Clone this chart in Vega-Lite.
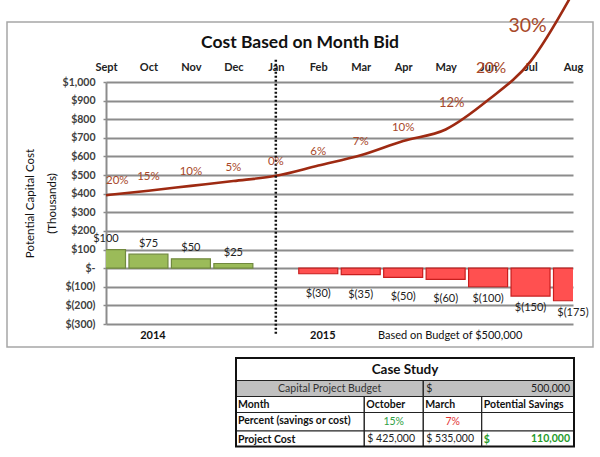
{
  "$schema": "https://vega.github.io/schema/vega-lite/v6.json",
  "width": 467,
  "height": 242,
  "autosize": {"type": "none"},
  "padding": {"left": 106, "top": 82, "right": 27, "bottom": 133},
  "background": "white",
  "config": {"font": "Lato", "view": {"stroke": null}},
  "title": {
    "text": "Cost Based on Month Bid",
    "fontSize": 17.5,
    "fontWeight": "bold",
    "color": "#111111",
    "anchor": "middle",
    "frame": "bounds",
    "offset": -64
  },
  "datasets": {
    "months": [
      {"month": "Sept", "impact": 100, "impact_label": "$100", "capital_cost": 392, "pct": "20%"},
      {"month": "Oct", "impact": 75, "impact_label": "$75", "capital_cost": 416, "pct": "15%"},
      {"month": "Nov", "impact": 50, "impact_label": "$50", "capital_cost": 442, "pct": "10%"},
      {"month": "Dec", "impact": 25, "impact_label": "$25", "capital_cost": 468, "pct": "5%"},
      {"month": "Jan", "impact": 0, "impact_label": "", "capital_cost": 496, "pct": "0%"},
      {"month": "Feb", "impact": -30, "impact_label": "$(30)", "capital_cost": 551, "pct": "6%"},
      {"month": "Mar", "impact": -35, "impact_label": "$(35)", "capital_cost": 606, "pct": "7%"},
      {"month": "Apr", "impact": -50, "impact_label": "$(50)", "capital_cost": 683, "pct": "10%"},
      {"month": "May", "impact": -60, "impact_label": "$(60)", "capital_cost": 745, "pct": "12%"},
      {"month": "Jun", "impact": -100, "impact_label": "$(100)", "capital_cost": 903, "pct": "20%"},
      {"month": "Jul", "impact": -150, "impact_label": "$(150)", "capital_cost": 1111, "pct": "30%"},
      {"month": "Aug", "impact": -175, "impact_label": "$(175)", "capital_cost": 1480, "pct": ""}
    ],
    "table_cells": [
      {"r0": 0, "r1": 1, "c0": 0, "c1": 4, "section": "title"},
      {"r0": 1, "r1": 2, "c0": 0, "c1": 2, "section": "budget"},
      {"r0": 1, "r1": 2, "c0": 2, "c1": 4, "section": "budget"},
      {"r0": 2, "r1": 3, "c0": 0, "c1": 1, "section": "body"},
      {"r0": 2, "r1": 3, "c0": 1, "c1": 2, "section": "body"},
      {"r0": 2, "r1": 3, "c0": 2, "c1": 3, "section": "body"},
      {"r0": 2, "r1": 3, "c0": 3, "c1": 4, "section": "body"},
      {"r0": 3, "r1": 4, "c0": 0, "c1": 1, "section": "body"},
      {"r0": 3, "r1": 4, "c0": 1, "c1": 2, "section": "body"},
      {"r0": 3, "r1": 4, "c0": 2, "c1": 3, "section": "body"},
      {"r0": 3, "r1": 4, "c0": 3, "c1": 4, "section": "body"},
      {"r0": 4, "r1": 5, "c0": 0, "c1": 1, "section": "body"},
      {"r0": 4, "r1": 5, "c0": 1, "c1": 2, "section": "body"},
      {"r0": 4, "r1": 5, "c0": 2, "c1": 3, "section": "body"},
      {"r0": 4, "r1": 5, "c0": 3, "c1": 4, "section": "body"}
    ],
    "table_text": [
      {"r0": 0, "c0": 0, "c1": 4, "text": "Case Study", "role": "title", "tone": "plain"},
      {"r0": 1, "c0": 0, "c1": 2, "text": "Capital Project Budget", "role": "budget_label", "tone": "muted"},
      {"r0": 1, "c0": 2, "c1": 4, "text": "$", "role": "budget_symbol", "tone": "muted"},
      {"r0": 1, "c0": 2, "c1": 4, "text": "500,000", "role": "budget_amount", "tone": "muted"},
      {"r0": 2, "c0": 0, "c1": 1, "text": "Month", "role": "header", "tone": "plain"},
      {"r0": 2, "c0": 1, "c1": 2, "text": "October", "role": "header", "tone": "plain"},
      {"r0": 2, "c0": 2, "c1": 3, "text": "March", "role": "header", "tone": "plain"},
      {"r0": 2, "c0": 3, "c1": 4, "text": "Potential Savings", "role": "header", "tone": "plain"},
      {"r0": 3, "c0": 0, "c1": 1, "text": "Percent (savings or cost)", "role": "header", "tone": "plain"},
      {"r0": 3, "c0": 1, "c1": 2, "text": "15%", "role": "pct", "tone": "saving"},
      {"r0": 3, "c0": 2, "c1": 3, "text": "7%", "role": "pct", "tone": "cost"},
      {"r0": 4, "c0": 0, "c1": 1, "text": "Project Cost", "role": "header", "tone": "plain"},
      {"r0": 4, "c0": 1, "c1": 2, "text": "$ 425,000", "role": "amount", "tone": "plain"},
      {"r0": 4, "c0": 2, "c1": 3, "text": "$ 535,000", "role": "amount", "tone": "plain"},
      {"r0": 4, "c0": 3, "c1": 4, "text": "$", "role": "savings_symbol", "tone": "saving"},
      {"r0": 4, "c0": 3, "c1": 4, "text": "110,000", "role": "savings_amount", "tone": "saving"}
    ]
  },
  "layer": [
    {
      "resolve": {"axis": {"x": "independent"}},
      "layer": [
        {
          "data": {"values": [{}]},
          "mark": {"type": "rect", "filled": false, "color": "#a6a6a6", "strokeWidth": 1.5, "xOffset": -99, "x2Offset": 20, "yOffset": -60, "y2Offset": 23},
          "encoding": {
            "x": {"datum": "Sept", "type": "ordinal", "axis": null},
            "x2": {"datum": "Aug"},
            "y": {
              "datum": 1000, "type": "quantitative",
              "scale": {"domain": [-300, 1000], "nice": false, "zero": false},
              "axis": {
                "title": ["Potential Capital Cost", "(Thousands)"],
                "titleFontSize": 11.5, "titleFontWeight": "normal", "titleColor": "#111111", "titleLineHeight": 22, "titlePadding": 5,
                "values": [-300, -200, -100, 0, 100, 200, 300, 400, 500, 600, 700, 800, 900, 1000],
                "tickCount": 20,
                "labelOverlap": false,
                "labelExpr": "datum.value == 0 ? '$-' : datum.value < 0 ? '$(' + format(-datum.value, ',') + ')' : '$' + format(datum.value, ',')",
                "labelFontSize": 10.5, "labelFontWeight": "bold", "labelColor": "#404040", "labelPadding": 8,
                "tickSize": 3, "tickColor": "#8c8c8c", "tickWidth": 1.5,
                "domainColor": "#8c8c8c", "domainWidth": 2,
                "grid": true, "gridColor": "#8c8c8c", "gridWidth": 1.8
              }
            },
            "y2": {"datum": -300}
          }
        },
        {
          "data": {"name": "months"},
          "transform": [{"filter": "datum.impact != 0"}],
          "mark": {"type": "bar", "width": 39, "clip": true, "strokeWidth": 1.2},
          "encoding": {
            "x": {
              "field": "month", "type": "ordinal",
              "scale": {"type": "point", "padding": 0, "domain": ["Sept", "Oct", "Nov", "Dec", "Jan", "Feb", "Mar", "Apr", "May", "Jun", "Jul", "Aug"]},
              "axis": {"orient": "top", "title": null, "domain": false, "ticks": false, "tickSize": 0, "grid": false, "labelPadding": 10, "labelAngle": 0, "labelFontSize": 11, "labelFontWeight": "bold", "labelColor": "#222222"}
            },
            "y": {"field": "impact", "type": "quantitative"},
            "y2": {"datum": 0},
            "fill": {"condition": {"test": "datum.impact > 0", "value": "#9bbb59"}, "value": "#ff5050"},
            "stroke": {"condition": {"test": "datum.impact > 0", "value": "#71893f"}, "value": "#c81e1e"}
          }
        },
        {
          "data": {"name": "months"},
          "mark": {"type": "line", "interpolate": "monotone", "strokeWidth": 2.6, "color": "#9e2a12", "clip": false},
          "encoding": {
            "x": {
              "field": "month", "type": "ordinal",
              "axis": {
                "orient": "bottom", "title": null, "domain": false, "ticks": false, "tickSize": 0, "grid": false,
                "labelPadding": 5, "labelOffset": 4, "labelAngle": 0, "labelOverlap": false, "labelFontSize": 11, "labelColor": "#111111",
                "labelExpr": "datum.label == 'Oct' ? '2014' : datum.label == 'Feb' ? '2015' : datum.label == 'May' ? 'Based on Budget of $500,000' : ''",
                "labelFontWeight": {"condition": {"test": "datum.label == 'May'", "value": "normal"}, "value": "bold"}
              }
            },
            "y": {"field": "capital_cost", "type": "quantitative"}
          }
        },
        {
          "data": {"values": [{}]},
          "mark": {"type": "rule", "strokeDash": [2, 2], "strokeWidth": 2.5, "color": "#111111", "clip": false},
          "encoding": {
            "x": {"datum": "Jan", "type": "ordinal", "axis": null},
            "y": {"datum": 1120, "type": "quantitative"},
            "y2": {"datum": -355}
          }
        },
        {
          "data": {"name": "months"},
          "transform": [{"filter": "datum.impact > 0"}],
          "mark": {"type": "text", "dy": -10.5, "fontSize": 11, "color": "#222222", "clip": false},
          "encoding": {
            "x": {"field": "month", "type": "ordinal", "axis": null},
            "y": {"field": "impact", "type": "quantitative"},
            "text": {"field": "impact_label"}
          }
        },
        {
          "data": {"name": "months"},
          "transform": [{"filter": "datum.impact < 0 && datum.impact > -100"}],
          "mark": {"type": "text", "dy": 20, "fontSize": 11, "color": "#222222", "clip": false},
          "encoding": {
            "x": {"field": "month", "type": "ordinal", "axis": null},
            "y": {"field": "impact", "type": "quantitative"},
            "text": {"field": "impact_label"}
          }
        },
        {
          "data": {"name": "months"},
          "transform": [{"filter": "datum.impact <= -100"}],
          "mark": {"type": "text", "dy": 12, "fontSize": 11, "color": "#222222", "clip": false},
          "encoding": {
            "x": {"field": "month", "type": "ordinal", "axis": null},
            "y": {"field": "impact", "type": "quantitative"},
            "text": {"field": "impact_label"}
          }
        },
        {
          "data": {"name": "months"},
          "transform": [{"filter": "datum.month == 'Sept'"}],
          "mark": {"type": "text", "align": "left", "dy": -14, "fontSize": 11.5, "color": "#a8482a", "clip": false},
          "encoding": {
            "x": {"field": "month", "type": "ordinal", "axis": null},
            "y": {"field": "capital_cost", "type": "quantitative"},
            "text": {"field": "pct"}
          }
        },
        {
          "data": {"name": "months"},
          "transform": [{"filter": "indexof(['Oct', 'Nov', 'Dec', 'Jan', 'Feb', 'Mar', 'Apr'], datum.month) >= 0"}],
          "mark": {"type": "text", "dy": -13.5, "fontSize": 11.5, "color": "#a8482a", "clip": false},
          "encoding": {
            "x": {"field": "month", "type": "ordinal", "axis": null},
            "y": {"field": "capital_cost", "type": "quantitative"},
            "text": {"field": "pct"}
          }
        },
        {
          "data": {"name": "months"},
          "transform": [{"filter": "datum.month == 'May'"}],
          "mark": {"type": "text", "dx": 6, "dy": -26.5, "fontSize": 13, "color": "#a8482a", "clip": false},
          "encoding": {
            "x": {"field": "month", "type": "ordinal", "axis": null},
            "y": {"field": "capital_cost", "type": "quantitative"},
            "text": {"field": "pct"}
          }
        },
        {
          "data": {"name": "months"},
          "transform": [{"filter": "datum.month == 'Jun'"}],
          "mark": {"type": "text", "dx": 3, "dy": -32, "fontSize": 15.5, "color": "#a8482a", "clip": false},
          "encoding": {
            "x": {"field": "month", "type": "ordinal", "axis": null},
            "y": {"field": "capital_cost", "type": "quantitative"},
            "text": {"field": "pct"}
          }
        },
        {
          "data": {"name": "months"},
          "transform": [{"filter": "datum.month == 'Jul'"}],
          "mark": {"type": "text", "dx": -3, "dy": -35, "fontSize": 19.5, "color": "#a8482a", "clip": false},
          "encoding": {
            "x": {"field": "month", "type": "ordinal", "axis": null},
            "y": {"field": "capital_cost", "type": "quantitative"},
            "text": {"field": "pct"}
          }
        }
      ]
    },
    {
      "resolve": {"scale": {"x": "independent", "y": "independent"}},
      "layer": [
        {
          "data": {"name": "table_cells"},
          "mark": {"type": "rect", "stroke": "#222222", "strokeWidth": 1.2, "clip": false},
          "encoding": {
            "x": {"field": "c0", "type": "quantitative", "axis": null, "scale": {"domain": [0, 1, 2, 3, 4], "range": [130, 258.3, 317.3, 375.7, 468], "zero": false, "nice": false}},
            "x2": {"field": "c1"},
            "y": {"field": "r0", "type": "quantitative", "axis": null, "scale": {"domain": [0, 1, 2, 3, 4, 5], "range": [276, 298.5, 314.5, 330.5, 349, 364.5], "zero": false, "nice": false}},
            "y2": {"field": "r1"},
            "fill": {"condition": {"test": "datum.section == 'budget'", "value": "#c0c0c0"}, "value": "#ffffff"}
          }
        },
        {
          "data": {"values": [{}]},
          "mark": {"type": "rect", "filled": false, "color": "#111111", "strokeWidth": 2, "clip": false},
          "encoding": {
            "x": {"datum": 0, "type": "quantitative", "axis": null, "scale": {"domain": [0, 1, 2, 3, 4], "range": [130, 258.3, 317.3, 375.7, 468], "zero": false, "nice": false}},
            "x2": {"datum": 4},
            "y": {"datum": 0, "type": "quantitative", "axis": null, "scale": {"domain": [0, 1, 2, 3, 4, 5], "range": [276, 298.5, 314.5, 330.5, 349, 364.5], "zero": false, "nice": false}},
            "y2": {"datum": 5}
          }
        },
        {
          "data": {"name": "table_text"},
          "transform": [{"filter": "datum.role == 'title'"}],
          "mark": {"type": "text", "dx": 169, "dy": 11.5, "fontSize": 13.5, "fontWeight": "bold", "color": "#111111", "baseline": "middle", "clip": false},
          "encoding": {
            "x": {"field": "c0", "type": "quantitative", "axis": null, "scale": {"domain": [0, 1, 2, 3, 4], "range": [130, 258.3, 317.3, 375.7, 468], "zero": false, "nice": false}},
            "y": {"field": "r0", "type": "quantitative", "axis": null, "scale": {"domain": [0, 1, 2, 3, 4, 5], "range": [276, 298.5, 314.5, 330.5, 349, 364.5], "zero": false, "nice": false}},
            "text": {"field": "text"}
          }
        },
        {
          "data": {"name": "table_text"},
          "transform": [{"filter": "datum.role == 'budget_label'"}],
          "mark": {"type": "text", "dx": 93.6, "dy": 8.2, "fontSize": 10.5, "color": "#333333", "baseline": "middle", "clip": false},
          "encoding": {
            "x": {"field": "c0", "type": "quantitative", "axis": null, "scale": {"domain": [0, 1, 2, 3, 4], "range": [130, 258.3, 317.3, 375.7, 468], "zero": false, "nice": false}},
            "y": {"field": "r0", "type": "quantitative", "axis": null, "scale": {"domain": [0, 1, 2, 3, 4, 5], "range": [276, 298.5, 314.5, 330.5, 349, 364.5], "zero": false, "nice": false}},
            "text": {"field": "text"}
          }
        },
        {
          "data": {"name": "table_text"},
          "transform": [{"filter": "datum.role == 'pct'"}],
          "mark": {"type": "text", "dx": 29.4, "dy": 9.2, "fontSize": 10.5, "baseline": "middle", "clip": false},
          "encoding": {
            "x": {"field": "c0", "type": "quantitative", "axis": null, "scale": {"domain": [0, 1, 2, 3, 4], "range": [130, 258.3, 317.3, 375.7, 468], "zero": false, "nice": false}},
            "y": {"field": "r0", "type": "quantitative", "axis": null, "scale": {"domain": [0, 1, 2, 3, 4, 5], "range": [276, 298.5, 314.5, 330.5, 349, 364.5], "zero": false, "nice": false}},
            "text": {"field": "text"},
            "color": {"condition": {"test": "datum.tone == 'saving'", "value": "#2ea043"}, "value": "#e33535"}
          }
        },
        {
          "data": {"name": "table_text"},
          "transform": [{"filter": "datum.role == 'budget_symbol' || datum.role == 'amount'"}],
          "mark": {"type": "text", "align": "left", "dx": 3, "dy": 8.2, "fontSize": 10.5, "baseline": "middle", "color": "#222222", "clip": false},
          "encoding": {
            "x": {"field": "c0", "type": "quantitative", "axis": null, "scale": {"domain": [0, 1, 2, 3, 4], "range": [130, 258.3, 317.3, 375.7, 468], "zero": false, "nice": false}},
            "y": {"field": "r0", "type": "quantitative", "axis": null, "scale": {"domain": [0, 1, 2, 3, 4, 5], "range": [276, 298.5, 314.5, 330.5, 349, 364.5], "zero": false, "nice": false}},
            "text": {"field": "text"}
          }
        },
        {
          "data": {"name": "table_text"},
          "transform": [{"filter": "datum.role == 'budget_amount'"}],
          "mark": {"type": "text", "align": "right", "dx": -4, "dy": 8.2, "fontSize": 10.5, "baseline": "middle", "color": "#222222", "clip": false},
          "encoding": {
            "x": {"field": "c1", "type": "quantitative", "axis": null, "scale": {"domain": [0, 1, 2, 3, 4], "range": [130, 258.3, 317.3, 375.7, 468], "zero": false, "nice": false}},
            "y": {"field": "r0", "type": "quantitative", "axis": null, "scale": {"domain": [0, 1, 2, 3, 4, 5], "range": [276, 298.5, 314.5, 330.5, 349, 364.5], "zero": false, "nice": false}},
            "text": {"field": "text"}
          }
        },
        {
          "data": {"name": "table_text"},
          "transform": [{"filter": "datum.role == 'header' || datum.role == 'savings_symbol'"}],
          "mark": {"type": "text", "align": "left", "dx": 2, "dy": 8.5, "fontSize": 10.5, "fontWeight": "bold", "baseline": "middle", "clip": false},
          "encoding": {
            "x": {"field": "c0", "type": "quantitative", "axis": null, "scale": {"domain": [0, 1, 2, 3, 4], "range": [130, 258.3, 317.3, 375.7, 468], "zero": false, "nice": false}},
            "y": {"field": "r0", "type": "quantitative", "axis": null, "scale": {"domain": [0, 1, 2, 3, 4, 5], "range": [276, 298.5, 314.5, 330.5, 349, 364.5], "zero": false, "nice": false}},
            "text": {"field": "text"},
            "color": {"condition": {"test": "datum.tone == 'saving'", "value": "#1f9a2a"}, "value": "#111111"}
          }
        },
        {
          "data": {"name": "table_text"},
          "transform": [{"filter": "datum.role == 'savings_amount'"}],
          "mark": {"type": "text", "align": "right", "dx": -4, "dy": 8, "fontSize": 10.5, "fontWeight": "bold", "baseline": "middle", "color": "#1f9a2a", "clip": false},
          "encoding": {
            "x": {"field": "c1", "type": "quantitative", "axis": null, "scale": {"domain": [0, 1, 2, 3, 4], "range": [130, 258.3, 317.3, 375.7, 468], "zero": false, "nice": false}},
            "y": {"field": "r0", "type": "quantitative", "axis": null, "scale": {"domain": [0, 1, 2, 3, 4, 5], "range": [276, 298.5, 314.5, 330.5, 349, 364.5], "zero": false, "nice": false}},
            "text": {"field": "text"}
          }
        }
      ]
    }
  ],
  "resolve": {"scale": {"x": "independent", "y": "independent"}}
}
